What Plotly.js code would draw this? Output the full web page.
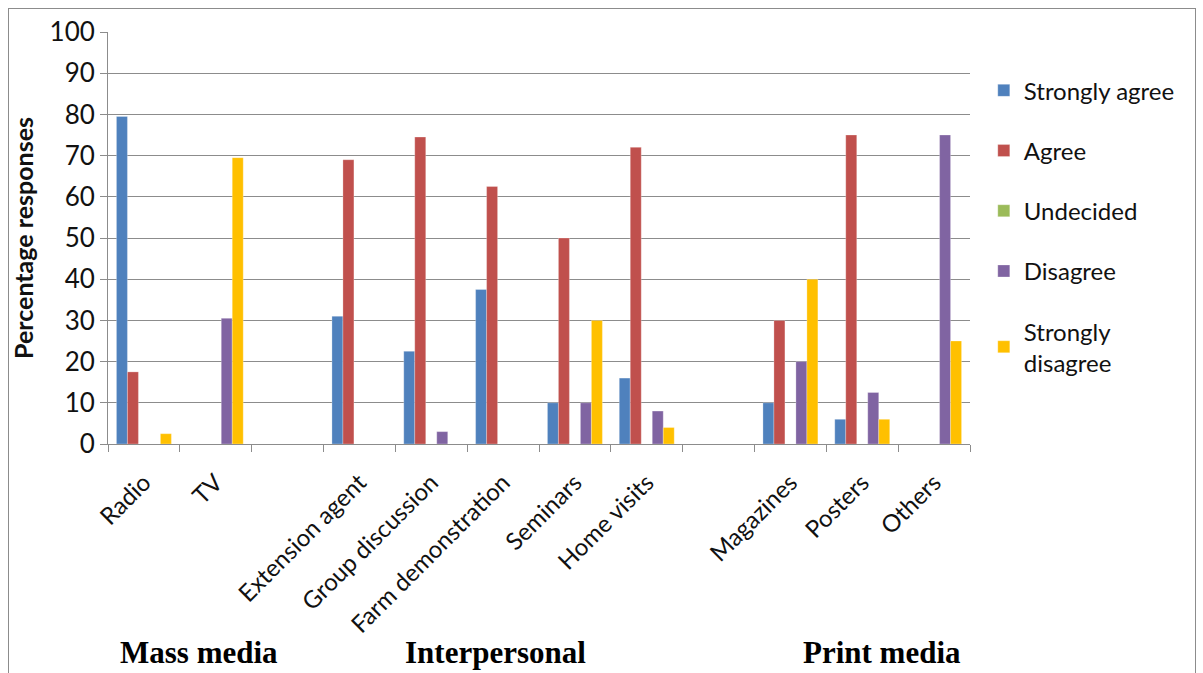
<!DOCTYPE html>
<html>
<head>
<meta charset="utf-8">
<script src="https://cdn.plot.ly/plotly-3.0.1.min.js"></script>
<style>
  html, body { margin: 0; padding: 0; background: #fff; }
  #frame { position: absolute; left: 8px; top: 8px; width: 1188px; height: 700px; border: 1px solid #8c8c8c; box-sizing: border-box; }
  #chart { position: absolute; left: 0; top: 0; width: 1203px; height: 673px; }
</style>
</head>
<body>
<div id="frame"></div>
<div id="chart"></div>
<script>
// Information sources, with two empty slots separating the media groups
const categories = ["Radio", "TV", " ", "Extension agent", "Group discussion",
  "Farm demonstration", "Seminars", "Home visits", "  ", "Magazines", "Posters", "Others"];

// Percentage responses per agreement level
const stronglyAgree    = [79.5, 0, null, 31, 22.5, 37.5, 10, 16, null, 10, 6, 0];
const agree            = [17.5, 0, null, 69, 74.5, 62.5, 50, 72, null, 30, 75, 0];
const undecided        = [0, 0, null, 0, 0, 0, 0, 0, null, 0, 0, 0];
const disagree         = [0, 30.5, null, 0, 3, 0, 10, 8, null, 20, 12.5, 75];
const stronglyDisagree = [2.5, 69.5, null, 0, 0, 0, 30, 4, null, 40, 6, 25];

const seriesNames  = ["Strongly agree", "Agree", "Undecided", "Disagree", "Strongly<br>disagree"];
const seriesValues = [stronglyAgree, agree, undecided, disagree, stronglyDisagree];
const seriesColors = ["#4F81BD", "#C0504D", "#9BBB59", "#8064A2", "#FFC000"];

const groupLabels = ["Mass media", "Interpersonal", "Print media"];
const groupX      = [0.106, 0.449, 0.898];

const font = "Lato, 'Open Sans', sans-serif";
const textColor = "#111";

const traces = seriesNames.map((name, i) => ({
  type: "bar",
  name: name,
  x: categories,
  y: seriesValues[i],
  legendgroup: "g" + i,
  marker: { color: seriesColors[i], line: { color: "rgba(255,255,255,0.45)", width: 0.6 } },
  hoverinfo: "x+y+name"
}));

const annotations = groupLabels.map((t, i) => ({
  text: "<b>" + t + "</b>",
  xref: "paper", yref: "paper",
  x: groupX[i], y: -0.507,
  xanchor: "center", yanchor: "middle",
  showarrow: false,
  font: { family: "'Liberation Serif', 'Times New Roman', serif", size: 31, color: "#000" }
}));

const layout = {
  width: 1203, height: 673,
  margin: { l: 108, r: 233, t: 32, b: 229 },
  paper_bgcolor: "rgba(0,0,0,0)",
  plot_bgcolor: "#fff",
  barmode: "group",
  bargap: 0.235,
  bargroupgap: 0,
  font: { family: font, color: textColor },
  xaxis: {
    type: "category",
    categoryorder: "array",
    categoryarray: categories,
    tickangle: -45,
    tickson: "boundaries",
    ticks: "outside",
    ticklen: 7,
    tickcolor: "#8c8c8c",
    ticklabelstandoff: 14,
    showline: true,
    linecolor: "#8c8c8c",
    linewidth: 1,
    showgrid: false,
    tickfont: { family: font, size: 24, color: textColor },
    fixedrange: true
  },
  yaxis: {
    range: [0, 100],
    dtick: 10,
    ticks: "outside",
    ticklen: 7,
    tickcolor: "#8c8c8c",
    showline: true,
    linecolor: "#8c8c8c",
    linewidth: 1,
    showgrid: true,
    gridcolor: "#8c8c8c",
    gridwidth: 1,
    zeroline: false,
    tickfont: { family: font, size: 26, color: textColor },
    title: { text: "<b>Percentage responses</b>", font: { family: font, size: 25, color: textColor }, standoff: 8 },
    fixedrange: true
  },
  legend: {
    x: 1.016, y: 0.912,
    xanchor: "left", yanchor: "top",
    font: { family: font, size: 24, color: textColor },
    tracegroupgap: 26,
    itemwidth: 30,
    bgcolor: "rgba(0,0,0,0)"
  },
  annotations: annotations,
  showlegend: true
};

Plotly.newPlot("chart", traces, layout, { displayModeBar: false, staticPlot: true });
</script>
</body>
</html>
